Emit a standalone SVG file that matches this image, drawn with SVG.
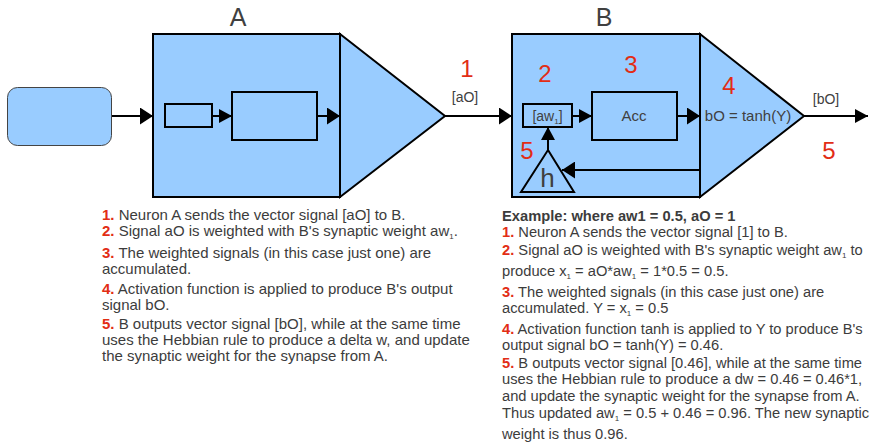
<svg xmlns="http://www.w3.org/2000/svg" width="883" height="445" viewBox="0 0 883 445">
<defs>
<style>
.blk{fill:#99ccff;stroke:#000;stroke-width:2}
.in{fill:#99ccff;stroke:#000;stroke-width:2}
.ln{fill:none;stroke:#000;stroke-width:2}
.lbl{font-family:"Liberation Sans",Arial,sans-serif;fill:#404040}
.red{font-family:"Liberation Sans",Arial,sans-serif;fill:#e22d15;font-size:24px}
.txt{font-family:"Liberation Sans",Arial,sans-serif;fill:#3c3c3c}
.n{fill:#e22d15;font-weight:bold}
.sub{font-size:8px}
</style>
<marker id="ah" markerUnits="userSpaceOnUse" markerWidth="14" markerHeight="17" refX="13" refY="8.5" orient="auto">
<path d="M0,0 L13,8.5 L0,17 z" fill="#000"/>
</marker>
<marker id="as" markerUnits="userSpaceOnUse" markerWidth="14" markerHeight="14" refX="13" refY="7" orient="auto">
<path d="M0,0 L13,7 L0,14 z" fill="#000"/>
</marker>
</defs>

<g id="input">
<rect x="7.5" y="87.5" width="104" height="58" rx="10" fill="#99ccff" stroke="#444" stroke-width="1"/>
</g>

<g id="neuronA">
<text class="lbl" x="238" y="26" font-size="25" text-anchor="middle">A</text>
<polygon class="blk" points="340,34 445,116 340,197"/>
<rect class="blk" x="153" y="34" width="187" height="163"/>
<rect class="in" x="165" y="104" width="47" height="23"/>
<rect class="in" x="232" y="92" width="85" height="48"/>
</g>

<g id="neuronB">
<text class="lbl" x="604" y="26" font-size="25" text-anchor="middle">B</text>
<polygon class="blk" points="700,34 804,116 700,197"/>
<rect class="blk" x="512" y="34" width="188" height="163"/>
<rect class="in" x="523" y="104" width="49" height="23"/>
<text class="lbl" x="547.5" y="121" font-size="14" text-anchor="middle">[aw<tspan class="sub" dy="3">1</tspan><tspan dy="-3">]</tspan></text>
<rect class="in" x="592" y="92" width="85" height="48"/>
<text class="lbl" x="634" y="121" font-size="15" text-anchor="middle">Acc</text>
<text class="lbl" x="748" y="121" font-size="15" text-anchor="middle">bO = tanh(Y)</text>
<polygon class="in" points="548,150 574,192 521,192"/>
<text class="lbl" x="547.5" y="187" font-size="26" text-anchor="middle">h</text>
</g>

<g id="connectors">
<line class="ln" x1="112" y1="116" x2="153" y2="116" marker-end="url(#ah)"/>
<line class="ln" x1="212" y1="116" x2="232" y2="116" marker-end="url(#as)"/>
<line class="ln" x1="317" y1="116" x2="340" y2="116" marker-end="url(#ah)"/>
<line class="ln" x1="445" y1="116" x2="512" y2="116" marker-end="url(#ah)"/>
<line class="ln" x1="572" y1="116" x2="592" y2="116" marker-end="url(#as)"/>
<line class="ln" x1="677" y1="116" x2="700" y2="116" marker-end="url(#ah)"/>
<line class="ln" x1="804" y1="116" x2="868" y2="116" marker-end="url(#as)"/>
<line class="ln" x1="548" y1="150" x2="548" y2="127" marker-end="url(#as)"/>
<line class="ln" x1="700" y1="170" x2="562" y2="170" marker-end="url(#ah)"/>
</g>

<g id="labels">
<text class="lbl" x="465" y="102" font-size="14" text-anchor="middle">[aO]</text>
<text class="lbl" x="826" y="104" font-size="14" text-anchor="middle">[bO]</text>
<text class="red" x="467" y="77" text-anchor="middle">1</text>
<text class="red" x="545" y="82" text-anchor="middle">2</text>
<text class="red" x="631" y="73" text-anchor="middle">3</text>
<text class="red" x="729" y="94" text-anchor="middle">4</text>
<text class="red" x="527" y="159" text-anchor="middle">5</text>
<text class="red" x="829" y="159" text-anchor="middle">5</text>
</g>

<g id="textLeft" class="txt" font-size="15">
<text x="102" y="220"><tspan class="n">1.</tspan> Neuron A sends the vector signal [aO] to B.</text>
<text x="102" y="236"><tspan class="n">2.</tspan> Signal aO is weighted with B's synaptic weight aw<tspan class="sub" dy="3">1</tspan><tspan dy="-3">.</tspan></text>
<text x="102" y="258"><tspan class="n">3.</tspan> The weighted signals (in this case just one) are</text>
<text x="102" y="274">accumulated.</text>
<text x="102" y="294"><tspan class="n">4.</tspan> Activation function is applied to produce B's output</text>
<text x="102" y="310">signal bO.</text>
<text x="102" y="329"><tspan class="n">5.</tspan> B outputs vector signal [bO], while at the same time</text>
<text x="102" y="345">uses the Hebbian rule to produce a delta w, and update</text>
<text x="102" y="361">the synaptic weight for the synapse from A.</text>
</g>

<g id="textRight" class="txt" font-size="14.7">
<text x="502" y="221" font-weight="bold">Example: where aw1 = 0.5, aO = 1</text>
<text x="502" y="237"><tspan class="n">1.</tspan> Neuron A sends the vector signal [1] to B.</text>
<text x="502" y="255"><tspan class="n">2.</tspan> Signal aO is weighted with B's synaptic weight aw<tspan class="sub" dy="3">1</tspan><tspan dy="-3"> to</tspan></text>
<text x="502" y="276">produce x<tspan class="sub" dy="3">1</tspan><tspan dy="-3"> = aO*aw</tspan><tspan class="sub" dy="3">1</tspan><tspan dy="-3"> = 1*0.5 = 0.5.</tspan></text>
<text x="502" y="297"><tspan class="n">3.</tspan> The weighted signals (in this case just one) are</text>
<text x="502" y="313">accumulated. Y = x<tspan class="sub" dy="3">1</tspan><tspan dy="-3"> = 0.5</tspan></text>
<text x="502" y="334"><tspan class="n">4.</tspan> Activation function tanh is applied to Y to produce B's</text>
<text x="502" y="350">output signal bO = tanh(Y) = 0.46.</text>
<text x="502" y="368"><tspan class="n">5.</tspan> B outputs vector signal [0.46], while at the same time</text>
<text x="502" y="384">uses the Hebbian rule to produce a dw = 0.46 = 0.46*1,</text>
<text x="502" y="401">and update the synaptic weight for the synapse from A.</text>
<text x="502" y="418">Thus updated aw<tspan class="sub" dy="3">1</tspan><tspan dy="-3"> = 0.5 + 0.46 = 0.96. The new synaptic</tspan></text>
<text x="502" y="439">weight is thus 0.96.</text>
</g>
</svg>
